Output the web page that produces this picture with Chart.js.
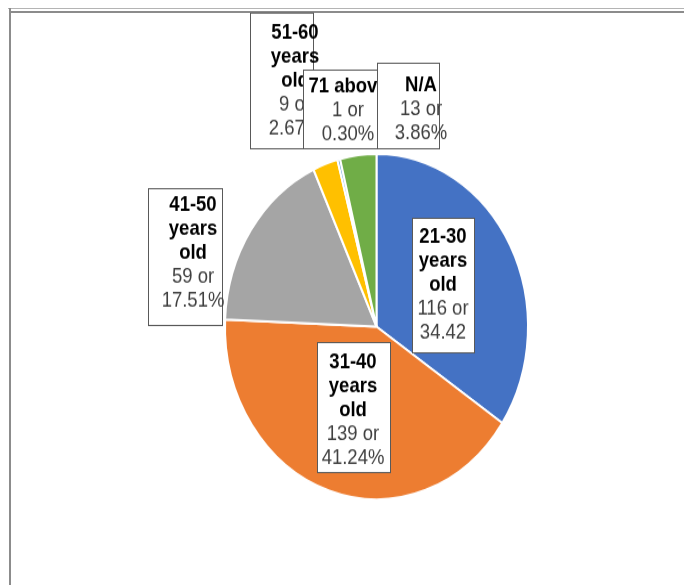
<!DOCTYPE html>
<html lang="en">
<head>
    <meta charset="UTF-8">
    <title>Respondents by Age</title>
    <script src="https://cdn.jsdelivr.net/npm/chart.js"></script>
    <style>
        body {
            margin: 0;
            background: #fff;
        }
        .frame-top-outer {
            position: absolute; left: 8px; right: 0; top: 8px; height: 1px; background: #b4b4b4;
        }
        .frame-top-inner {
            position: absolute; left: 9px; right: 0; top: 11px; height: 2px; background: #8c8c8c;
        }
        .frame-left {
            position: absolute; left: 9px; top: 8px; bottom: 0; width: 2px; background: #8c8c8c;
        }
        #chart-wrap {
            position: absolute;
            left: 0;
            top: 0;
            width: 684px;
            height: 513px;
            transform: scaleY(1.14);
            transform-origin: 0 0;
        }
    </style>
</head>
<body>
    <div class="frame-top-outer"></div>
    <div class="frame-top-inner"></div>
    <div class="frame-left"></div>
    <div id="chart-wrap"><canvas id="ageChart" width="684" height="513"></canvas></div>
    <script>
        const ageGroups = ['21-30 years old', '31-40 years old', '41-50 years old', '51-60 years old', '71 above', 'N/A'];
        const counts = [116, 139, 59, 9, 1, 13];
        const percentText = ['34.42', '41.24%', '17.51%', '2.67%', '0.30%', '3.86%'];
        const sliceColors = ['#4472C4', '#ED7D31', '#A5A5A5', '#FFC000', '#5B9BD5', '#70AD47'];

        // label boxes, dragged around like in the office chart
        const boxes = [
            { x: 412, y: 191, w: 62, h: 118, cx: 443, ty: 207.6, bold: ['21-30', 'years', 'old'] },
            { x: 317, y: 300, w: 73, h: 114, cx: 353, ty: 318.4, bold: ['31-40', 'years', 'old'] },
            { x: 148, y: 165, w: 74, h: 120, cx: 193, ty: 179.8, bold: ['41-50', 'years', 'old'] },
            { x: 250, y: 11, w: 63, h: 119, cx: 295, ty: 29, bold: ['51-60', 'years', 'old'] },
            { x: 303, y: 61, w: 74, h: 69, cx: 348, ty: 76.3, bold: ['71 above'] },
            { x: 377, y: 55, w: 62, h: 75, cx: 421, ty: 74.6, bold: ['N/A'] }
        ];
        const lineGap = 21;

        const boxLabels = {
            id: 'boxLabels',
            afterDatasetsDraw(chart) {
                const ctx = chart.ctx;
                ctx.save();
                ctx.textAlign = 'center';
                ctx.textBaseline = 'middle';
                boxes.forEach((b, i) => {
                    ctx.fillStyle = '#ffffff';
                    ctx.fillRect(b.x, b.y, b.w, b.h);
                    ctx.strokeStyle = '#595959';
                    ctx.lineWidth = 1;
                    ctx.strokeRect(b.x + 0.5, b.y + 0.5, b.w, b.h);

                    const lines = b.bold.map(t => ({ t, bold: true }));
                    lines.push({ t: counts[i] + ' or', bold: false });
                    lines.push({ t: percentText[i], bold: false });
                    lines.forEach((ln, k) => {
                        ctx.font = (ln.bold ? 'bold ' : '') + '18.5px "Liberation Sans", Arial, sans-serif';
                        ctx.fillStyle = ln.bold ? '#000000' : '#404040';
                        ctx.fillText(ln.t, b.cx, b.ty + k * lineGap);
                    });
                });
                ctx.restore();
            }
        };

        new Chart(document.getElementById('ageChart'), {
            type: 'pie',
            data: {
                labels: ageGroups,
                datasets: [{
                    data: counts,
                    backgroundColor: sliceColors,
                    borderColor: '#ffffff',
                    borderWidth: 2
                }]
            },
            options: {
                responsive: false,
                animation: false,
                events: [],
                layout: {
                    padding: { left: 224, right: 155, top: 134, bottom: 74 }
                },
                plugins: {
                    legend: { display: false },
                    title: { display: false },
                    tooltip: { enabled: false }
                }
            },
            plugins: [boxLabels]
        });
    </script>
</body>
</html>
